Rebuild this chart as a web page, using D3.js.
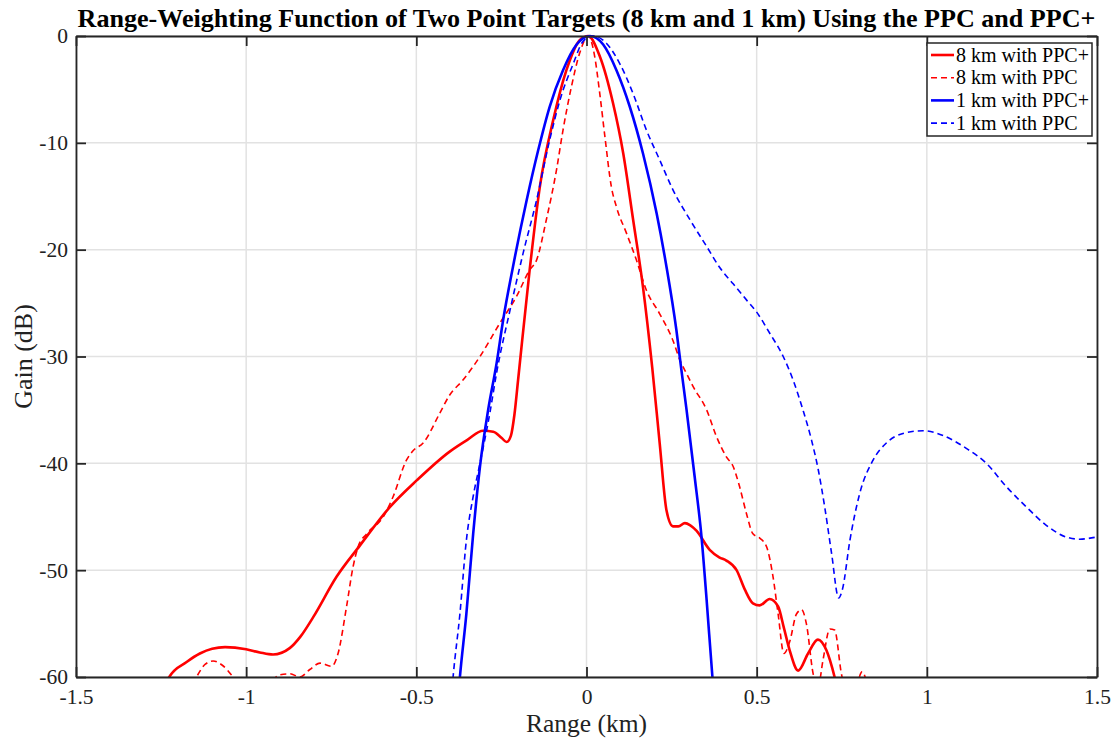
<!DOCTYPE html>
<html>
<head>
<meta charset="utf-8">
<script src="https://cdn.jsdelivr.net/npm/d3@7/dist/d3.min.js"></script>
<style>
  html, body { margin: 0; padding: 0; background: #fff; }
  svg { display: block; }
  text { font-family: "Liberation Serif", "Times New Roman", serif; fill: #222; }
</style>
</head>
<body>
<svg id="chart" width="1116" height="743"></svg>
<script>
// Range-weighting function samples: [range (km), gain (dB)]
const pulse8kmPPCplus = [
  [-1.26,-62.5],[-1.226,-60],[-1.175,-58.6],[-1.136,-57.8],[-1.10,-57.35],[-1.062,-57.2],[-1.00,-57.4],
  [-0.96,-57.7],[-0.921,-57.9],[-0.872,-57.3],[-0.84,-56.2],[-0.803,-54.4],[-0.734,-50.6],
  [-0.666,-47.7],[-0.578,-44.1],[-0.499,-41.6],[-0.402,-38.9],[-0.35,-37.8],[-0.304,-36.95],
  [-0.274,-37.05],[-0.25,-37.6],[-0.235,-38.0],[-0.222,-37.4],[-0.212,-35.5],[-0.201,-32.2],
  [-0.167,-21.9],[-0.137,-14.1],[-0.098,-7.9],[-0.059,-3.2],[-0.020,-0.4],[0.005,0],
  [0.039,-1.9],[0.078,-6.3],[0.108,-11.0],[0.137,-17.2],[0.166,-23.5],[0.193,-31.0],
  [0.215,-38.1],[0.235,-44.4],[0.254,-45.9],[0.270,-45.9],[0.289,-45.6],[0.305,-45.8],[0.323,-46.3],
  [0.362,-48.1],[0.390,-48.8],[0.411,-49.1],[0.441,-50.0],[0.465,-51.8],[0.489,-53.1],
  [0.509,-53.3],[0.538,-52.7],[0.563,-53.4],[0.580,-55.4],[0.597,-57.5],[0.622,-59.4],
  [0.651,-57.8],[0.680,-56.5],[0.705,-57.5],[0.729,-60],[0.74,-61.5]
];
const pulse8kmPPC = [
  [-1.17,-61.5],[-1.146,-60],[-1.12,-58.8],[-1.097,-58.5],[-1.07,-58.9],[-1.038,-60],[-1.00,-61.5],
  [-0.95,-61.2],[-0.901,-59.8],[-0.872,-59.7],[-0.842,-60],[-0.813,-59.3],[-0.783,-58.7],
  [-0.749,-59.0],[-0.730,-57.8],[-0.705,-53.4],[-0.686,-49.7],[-0.671,-47.8],[-0.646,-46.6],
  [-0.597,-45.0],[-0.568,-43.1],[-0.529,-39.7],[-0.509,-38.8],[-0.480,-38.1],[-0.431,-35.3],
  [-0.402,-33.6],[-0.363,-32.2],[-0.313,-30.0],[-0.255,-26.9],[-0.206,-24.4],[-0.167,-21.9],
  [-0.147,-21.0],[-0.118,-17.2],[-0.088,-12.5],[-0.069,-8.8],[-0.044,-4.7],[-0.020,-1.6],
  [0.005,0],[0.024,-1.9],[0.039,-5.4],[0.054,-9.4],[0.073,-14.1],[0.088,-16.0],[0.118,-18.5],
  [0.147,-21.0],[0.176,-23.8],[0.215,-26.0],[0.254,-28.5],[0.274,-30.3],[0.294,-31.6],
  [0.313,-32.8],[0.353,-35.0],[0.382,-37.5],[0.411,-39.4],[0.431,-40.3],[0.450,-42.2],
  [0.470,-44.7],[0.489,-46.6],[0.509,-47.0],[0.529,-47.8],[0.548,-50.6],[0.563,-54.1],
  [0.580,-57.8],[0.597,-56.7],[0.617,-54.1],[0.632,-53.7],[0.646,-55.0],[0.666,-59.7],
  [0.680,-61.0],[0.695,-58.4],[0.715,-55.5],[0.729,-55.6],[0.749,-59.7],[0.77,-62.0],
  [0.795,-60.6],[0.81,-59.5],[0.825,-60.6],[0.84,-62]
];
const pulse1kmPPCplus = [
  [-0.38,-63],[-0.372,-60],[-0.353,-54.1],[-0.333,-46.6],[-0.313,-40.3],[-0.289,-35.0],
  [-0.264,-30.6],[-0.245,-26.6],[-0.216,-21.6],[-0.176,-15.4],[-0.142,-10.7],[-0.108,-6.6],
  [-0.069,-3.2],[-0.029,-0.8],[0.010,0],[0.049,-0.8],[0.088,-3.2],[0.127,-6.6],[0.166,-11.0],
  [0.206,-16.6],[0.235,-21.6],[0.264,-27.5],[0.279,-31.3],[0.294,-35.0],[0.318,-41.3],
  [0.338,-46.9],[0.353,-52.8],[0.370,-60],[0.378,-63]
];
const pulse1kmPPC = [
  [-0.40,-63],[-0.392,-60],[-0.372,-54.1],[-0.353,-47.2],[-0.333,-43.1],[-0.313,-40.0],
  [-0.284,-35.3],[-0.264,-31.5],[-0.225,-25.7],[-0.186,-20.3],[-0.147,-15.4],[-0.108,-9.7],
  [-0.078,-6.0],[-0.039,-2.6],[-0.010,-0.5],[0.020,0],[0.059,-0.7],[0.098,-2.6],[0.137,-5.4],
  [0.176,-8.8],[0.215,-11.6],[0.254,-14.4],[0.304,-17.2],[0.353,-19.7],[0.392,-21.7],
  [0.431,-23.2],[0.470,-24.7],[0.499,-25.8],[0.538,-27.8],[0.578,-30.0],[0.607,-32.2],
  [0.636,-35.0],[0.661,-37.8],[0.681,-40.6],[0.700,-44.1],[0.720,-48.4],[0.741,-52.6],
  [0.752,-51.8],[0.774,-47.2],[0.803,-42.8],[0.842,-39.7],[0.881,-38.1],[0.930,-37.2],
  [0.989,-36.95],[1.048,-37.4],[1.116,-38.6],[1.175,-40.0],[1.234,-42.2],[1.293,-44.1],
  [1.351,-45.8],[1.410,-46.9],[1.449,-47.1],[1.498,-46.9]
];

const seriesNames = ["8 km with PPC+", "8 km with PPC", "1 km with PPC+", "1 km with PPC"];
const seriesColors = ["#ff0000", "#ff0000", "#0000ff", "#0000ff"];
const seriesDashed = [false, true, false, true];
const seriesData = [pulse8kmPPCplus, pulse8kmPPC, pulse1kmPPCplus, pulse1kmPPC];

const xTicks = [-1.5, -1, -0.5, 0, 0.5, 1, 1.5];
const xTickLabels = ["-1.5", "-1", "-0.5", "0", "0.5", "1", "1.5"];
const yTicks = [-60, -50, -40, -30, -20, -10, 0];
const yTickLabels = ["-60", "-50", "-40", "-30", "-20", "-10", "0"];

const titleText = "Range-Weighting Function of Two Point Targets (8 km and 1 km) Using the PPC and PPC+";
const xLabel = "Range (km)";
const yLabel = "Gain (dB)";

// Layout
const plot = { left: 76, right: 1097, top: 36, bottom: 677 };
const svg = d3.select("#chart");

const x = d3.scaleLinear().domain([-1.5, 1.5]).range([plot.left, plot.right]);
const y = d3.scaleLinear().domain([-60, 0]).range([plot.bottom, plot.top]);

// Grid lines
const grid = svg.append("g");
grid.selectAll("line.gx").data(xTicks).join("line")
  .attr("x1", d => x(d)).attr("x2", d => x(d))
  .attr("y1", plot.top).attr("y2", plot.bottom)
  .attr("stroke", "#e2e2e2").attr("stroke-width", 1.5);
grid.selectAll("line.gy").data(yTicks).join("line")
  .attr("x1", plot.left).attr("x2", plot.right)
  .attr("y1", d => y(d)).attr("y2", d => y(d))
  .attr("stroke", "#e2e2e2").attr("stroke-width", 1.5);

// Curves clipped to the axes box
svg.append("clipPath").attr("id", "plotClip")
  .append("rect")
  .attr("x", plot.left).attr("y", plot.top - 2)
  .attr("width", plot.right - plot.left).attr("height", plot.bottom - plot.top + 2);

const line = d3.line().x(d => x(d[0])).y(d => y(d[1])).curve(d3.curveMonotoneX);
const curves = svg.append("g").attr("clip-path", "url(#plotClip)");
seriesData.forEach((data, i) => {
  curves.append("path")
    .datum(data)
    .attr("d", line)
    .attr("fill", "none")
    .attr("stroke", seriesColors[i])
    .attr("stroke-width", seriesDashed[i] ? 1.6 : 2.6)
    .attr("stroke-dasharray", seriesDashed[i] ? "6,4" : null)
    .attr("stroke-linejoin", "round");
});

// Axes (box with inward ticks on all four sides)
const tickLen = 10;
const axisColor = "#262626";
const axBottom = d3.axisBottom(x).tickValues(xTicks).tickFormat((d, i) => xTickLabels[i])
  .tickSizeInner(-tickLen).tickSizeOuter(0).tickPadding(12);
const axTop = d3.axisTop(x).tickValues(xTicks).tickFormat("")
  .tickSizeInner(-tickLen).tickSizeOuter(0);
const axLeft = d3.axisLeft(y).tickValues(yTicks).tickFormat((d, i) => yTickLabels[i])
  .tickSizeInner(-tickLen).tickSizeOuter(0).tickPadding(8);
const axRight = d3.axisRight(y).tickValues(yTicks).tickFormat("")
  .tickSizeInner(-tickLen).tickSizeOuter(0);

function styleAxis(g) {
  g.select(".domain").attr("stroke", axisColor).attr("stroke-width", 1.8);
  g.selectAll(".tick line").attr("stroke", axisColor).attr("stroke-width", 1.8);
  g.selectAll(".tick text").attr("fill", "#222")
    .style("font-family", '"Liberation Serif", "Times New Roman", serif')
    .style("font-size", "21.5px");
}
svg.append("g").attr("transform", `translate(0,${plot.bottom})`).call(axBottom).call(styleAxis);
svg.append("g").attr("transform", `translate(0,${plot.top})`).call(axTop).call(styleAxis);
svg.append("g").attr("transform", `translate(${plot.left},0)`).call(axLeft).call(styleAxis);
svg.append("g").attr("transform", `translate(${plot.right},0)`).call(axRight).call(styleAxis);

// Title and axis labels
svg.append("text")
  .attr("x", (plot.left + plot.right) / 2).attr("y", 27)
  .attr("text-anchor", "middle")
  .style("font-weight", "bold").style("font-size", "26.1px").style("fill", "#000")
  .text(titleText);
svg.append("text")
  .attr("x", (plot.left + plot.right) / 2).attr("y", 732)
  .attr("text-anchor", "middle")
  .style("font-size", "25.5px")
  .text(xLabel);
svg.append("text")
  .attr("transform", `translate(32,${(plot.top + plot.bottom) / 2}) rotate(-90)`)
  .attr("text-anchor", "middle")
  .style("font-size", "26px")
  .text(yLabel);

// Legend
const legend = svg.append("g").attr("transform", "translate(927,43)");
legend.append("rect")
  .attr("width", 165).attr("height", 93)
  .attr("fill", "#fff").attr("stroke", axisColor).attr("stroke-width", 1.5);
seriesNames.forEach((name, i) => {
  const ry = 12 + i * 22.7;
  legend.append("line")
    .attr("x1", 4).attr("x2", 27).attr("y1", ry).attr("y2", ry)
    .attr("stroke", seriesColors[i])
    .attr("stroke-width", seriesDashed[i] ? 1.6 : 2.6)
    .attr("stroke-dasharray", seriesDashed[i] ? "6,4" : null);
  legend.append("text")
    .attr("x", 29).attr("y", ry + 6.5)
    .style("font-size", "20px")
    .style("fill", "#000")
    .text(name);
});
</script>
</body>
</html>
